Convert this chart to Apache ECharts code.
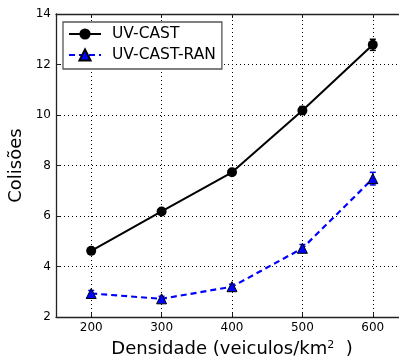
<!DOCTYPE html>
<html>
<head>
<meta charset="utf-8">
<script src="https://cdn.jsdelivr.net/npm/echarts@6/dist/echarts.min.js"></script>
<style>
  html, body { margin: 0; padding: 0; background: #fff; }
  #chart { width: 399px; height: 361px; }
</style>
</head>
<body>
<div id="chart"></div>
<script>
// densidades (veiculos/km2)
const densidades = [200, 300, 400, 500, 600];
const uvCast = [4.62, 6.18, 7.73, 10.18, 12.78];
const uvCastErr = [0.1, 0.1, 0.1, 0.15, 0.22];
const uvCastRan = [2.93, 2.72, 3.2, 4.72, 7.48];
const uvCastRanErr = [0.12, 0.1, 0.1, 0.15, 0.25];
const yTicks = [2, 4, 6, 8, 10, 12, 14];

const font = "DejaVu Sans";

function errorSeries(values, errs, color) {
  const data = densidades.map((d, i) => [d, values[i] - errs[i], values[i] + errs[i]]);
  return {
    type: "custom",
    silent: true,
    z: 3,
    data: data,
    renderItem: function (params, api) {
      const lo = api.coord([api.value(0), api.value(1)]);
      const hi = api.coord([api.value(0), api.value(2)]);
      const cap = 3;
      const style = { stroke: color, lineWidth: 1.5 };
      return {
        type: "group",
        children: [
          { type: "line", shape: { x1: lo[0], y1: lo[1], x2: hi[0], y2: hi[1] }, style },
          { type: "line", shape: { x1: lo[0] - cap, y1: lo[1], x2: lo[0] + cap, y2: lo[1] }, style },
          { type: "line", shape: { x1: hi[0] - cap, y1: hi[1], x2: hi[0] + cap, y2: hi[1] }, style },
        ],
      };
    },
  };
}

const chart = echarts.init(document.getElementById("chart"));

const axisLine = { show: true, lineStyle: { color: "#222", width: 1.3 } };
const gridLine = { show: true, lineStyle: { color: "#000", type: [1, 3], width: 1 } };
const tick = { show: true, inside: true, length: 4, lineStyle: { color: "#222", width: 1 } };

chart.setOption({
  animation: false,
  textStyle: { fontFamily: font },
  grid: { left: 56, top: 14, width: 352, height: 303, outerBoundsMode: "none", containLabel: false },
  legend: {
    left: 63,
    top: 22,
    orient: "vertical",
    backgroundColor: "#fff",
    borderColor: "#555",
    borderWidth: 1.3,
    borderRadius: 0,
    padding: [3, 6, 5, 5],
    itemGap: 3,
    itemWidth: 32,
    itemHeight: 14,
    textStyle: { fontFamily: font, fontSize: 15.5, lineHeight: 18, color: "#000", padding: [0, 0, 0, 6] },
    data: ["UV-CAST", "UV-CAST-RAN"],
  },
  xAxis: [
    {
      type: "value",
      min: 150,
      max: 650,
      interval: 50,
      name: "Densidade (veiculos/km{s|2}  )",
      nameLocation: "middle",
      nameGap: 23,
      nameTextStyle: {
        fontFamily: font, fontSize: 18, color: "#000", verticalAlign: "top",
        rich: { s: { fontSize: 11, verticalAlign: "top", padding: [0, 0, 8, 0], fontFamily: font } },
      },
      axisLine,
      axisTick: Object.assign({ customValues: densidades }, tick),
      axisLabel: {
        fontFamily: font, fontSize: 12, color: "#000", margin: 5,
        customValues: densidades,
      },
      splitLine: { show: false },
    },
    {
      type: "value",
      position: "top",
      min: 150,
      max: 650,
      interval: 50,
      axisLine,
      axisTick: Object.assign({ customValues: densidades }, tick),
      axisLabel: { show: false },
      splitLine: { show: false },
    },
  ],
  yAxis: [
    {
      type: "value",
      min: yTicks[0],
      max: yTicks[yTicks.length - 1],
      interval: 2,
      name: "Colisões",
      nameLocation: "middle",
      nameGap: 13,
      nameTextStyle: { fontFamily: font, fontSize: 18, color: "#000" },
      axisLine,
      axisTick: tick,
      axisLabel: { fontFamily: font, fontSize: 12, color: "#000", margin: 5 },
      splitLine: gridLine,
    },
  ],
  series: [
    {
      name: "UV-CAST",
      type: "line",
      z: 4,
      data: densidades.map((d, i) => [d, uvCast[i]]),
      symbol: "circle",
      symbolSize: 10,
      itemStyle: { color: "#000" },
      lineStyle: { color: "#000", width: 2 },
      markLine: {
        silent: true,
        symbol: "none",
        label: { show: false },
        lineStyle: gridLine.lineStyle,
        z: 1,
        data: densidades.map((d) => ({ xAxis: d })),
      },
    },
    errorSeries(uvCast, uvCastErr, "#000"),
    {
      name: "UV-CAST-RAN",
      type: "line",
      z: 4,
      data: densidades.map((d, i) => [d, uvCastRan[i]]),
      symbol: "triangle",
      symbolSize: 10,
      itemStyle: { color: "#0000ff", borderColor: "#000", borderWidth: 1 },
      lineStyle: { color: "#0000ff", width: 2.2, type: [6, 4] },
    },
    errorSeries(uvCastRan, uvCastRanErr, "#0000ff"),
  ],
});
</script>
</body>
</html>
